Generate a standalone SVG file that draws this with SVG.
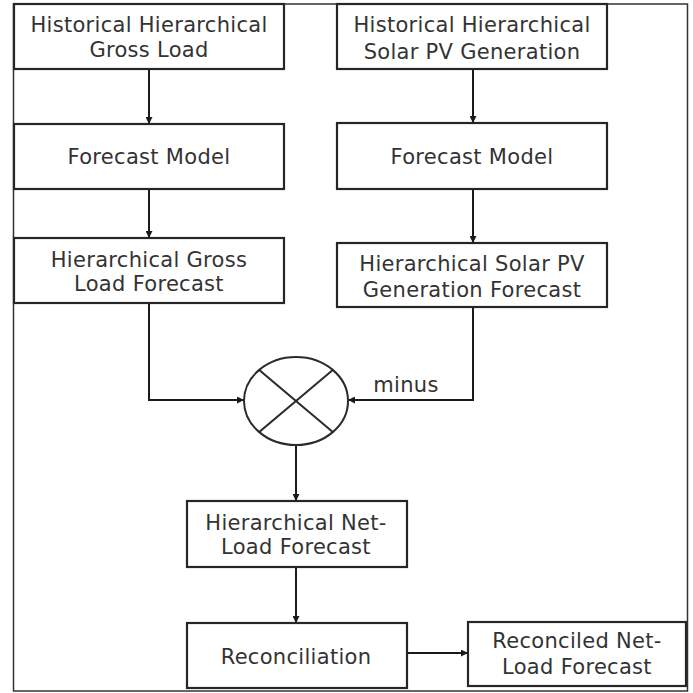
<svg xmlns="http://www.w3.org/2000/svg" width="693" height="693" viewBox="0 0 693 693">
  <defs>
    <marker id="arr" viewBox="0 0 10 10" refX="10" refY="5" markerWidth="7" markerHeight="7" markerUnits="userSpaceOnUse" orient="auto">
      <path d="M0,0 L10,5 L0,10 z" fill="#1a1a1a"/>
    </marker>
    <style>
      .box { fill: #ffffff; stroke: #262626; stroke-width: 2.2; }
      .lbl { font-family: "DejaVu Sans", Verdana, sans-serif; font-size: 21px; fill: #333333; text-anchor: middle; letter-spacing: 0.3px; }
      .con { fill: none; stroke: #1a1a1a; stroke-width: 2; }
    </style>
  </defs>
  <rect x="0" y="0" width="693" height="693" fill="#ffffff"/>
  <rect x="13.5" y="4" width="674" height="687" fill="none" stroke="#333333" stroke-width="1.5"/>

  <g id="connectors">
    <line class="con" x1="149" y1="69" x2="149" y2="124" marker-end="url(#arr)"/>
    <line class="con" x1="149" y1="189" x2="149" y2="238" marker-end="url(#arr)"/>
    <line class="con" x1="473" y1="69" x2="473" y2="123" marker-end="url(#arr)"/>
    <line class="con" x1="473" y1="189" x2="473" y2="243" marker-end="url(#arr)"/>
    <polyline class="con" points="149,303 149,400 244,400" marker-end="url(#arr)"/>
    <polyline class="con" points="473,307 473,400 348,400" marker-end="url(#arr)"/>
    <line class="con" x1="296" y1="445" x2="296" y2="501" marker-end="url(#arr)"/>
    <line class="con" x1="296" y1="567" x2="296" y2="623" marker-end="url(#arr)"/>
    <line class="con" x1="407" y1="653" x2="468" y2="653" marker-end="url(#arr)"/>
    <text class="lbl" x="406" y="392">minus</text>
  </g>

  <g id="hist-gross">
    <rect class="box" x="14" y="4" width="270" height="65"/>
    <text class="lbl" x="149" y="32">Historical Hierarchical</text>
    <text class="lbl" x="149" y="57">Gross Load</text>
  </g>
  <g id="hist-solar">
    <rect class="box" x="337" y="4" width="270" height="65"/>
    <text class="lbl" x="472" y="32">Historical Hierarchical</text>
    <text class="lbl" x="472" y="59">Solar PV Generation</text>
  </g>
  <g id="model-gross">
    <rect class="box" x="14" y="124" width="270" height="65"/>
    <text class="lbl" x="149" y="164">Forecast Model</text>
  </g>
  <g id="model-solar">
    <rect class="box" x="337" y="123" width="270" height="66"/>
    <text class="lbl" x="472" y="164">Forecast Model</text>
  </g>
  <g id="gross-forecast">
    <rect class="box" x="14" y="238" width="270" height="65"/>
    <text class="lbl" x="149" y="267">Hierarchical Gross</text>
    <text class="lbl" x="149" y="291">Load Forecast</text>
  </g>
  <g id="solar-forecast">
    <rect class="box" x="337" y="243" width="270" height="64"/>
    <text class="lbl" x="472" y="271">Hierarchical Solar PV</text>
    <text class="lbl" x="472" y="297">Generation Forecast</text>
  </g>
  <g id="combiner">
    <ellipse cx="296" cy="401" rx="52" ry="44" fill="#ffffff" stroke="#2a2a2a" stroke-width="2"/>
    <line x1="259.2" y1="369.9" x2="332.8" y2="432.1" stroke="#2a2a2a" stroke-width="2"/>
    <line x1="332.8" y1="369.9" x2="259.2" y2="432.1" stroke="#2a2a2a" stroke-width="2"/>
  </g>
  <g id="netload-forecast">
    <rect class="box" x="187" y="501" width="220" height="66"/>
    <text class="lbl" x="296" y="530">Hierarchical Net-</text>
    <text class="lbl" x="296" y="554">Load Forecast</text>
  </g>
  <g id="reconciliation">
    <rect class="box" x="187" y="623" width="220" height="65"/>
    <text class="lbl" x="296" y="664">Reconciliation</text>
  </g>
  <g id="reconciled">
    <rect class="box" x="468" y="622" width="218" height="64"/>
    <text class="lbl" x="577" y="648">Reconciled Net-</text>
    <text class="lbl" x="577" y="674">Load Forecast</text>
  </g>
</svg>
